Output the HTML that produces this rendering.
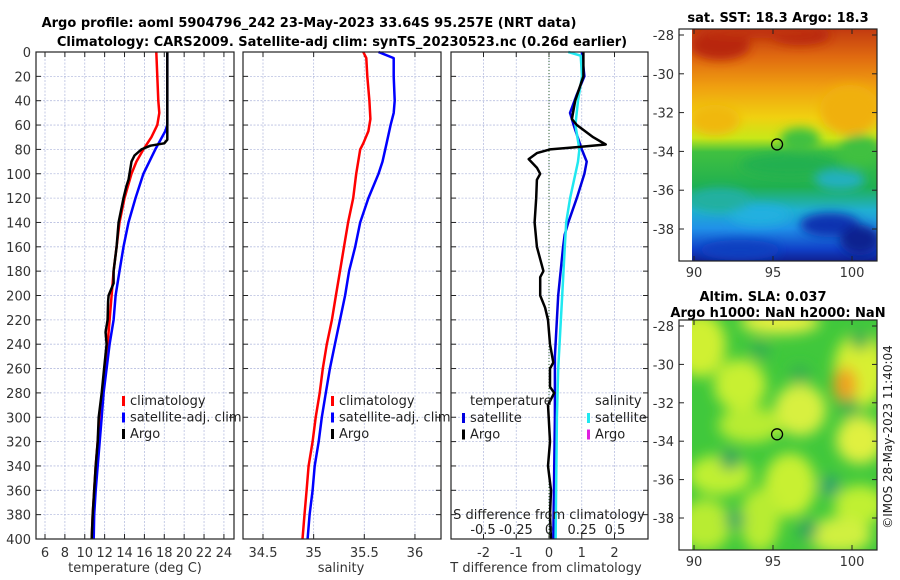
<!DOCTYPE html>
<html><head><meta charset="utf-8"><style>
body{margin:0;background:#fff;width:900px;height:580px;overflow:hidden}
svg{display:block;font-family:"DejaVu Sans","Liberation Sans",sans-serif}
</style></head><body>
<svg id="c" width="900" height="580" viewBox="0 0 900 580" xmlns="http://www.w3.org/2000/svg">
<defs>
<linearGradient id="sstg" x1="0" y1="0" x2="0" y2="1">
<stop offset="0" stop-color="#c23a10"/><stop offset="0.12" stop-color="#e06a10"/><stop offset="0.25" stop-color="#f0a010"/><stop offset="0.38" stop-color="#f0d010"/><stop offset="0.47" stop-color="#c8e818"/><stop offset="0.53" stop-color="#40c040"/><stop offset="0.68" stop-color="#20b050"/><stop offset="0.78" stop-color="#20b0d0"/><stop offset="0.86" stop-color="#2090e8"/><stop offset="0.95" stop-color="#1040c8"/><stop offset="1" stop-color="#102090"/>
</linearGradient>
<filter id="blur4"><feGaussianBlur stdDeviation="5"/></filter>
<filter id="blur7"><feGaussianBlur stdDeviation="7"/></filter>
<clipPath id="clipTop"><rect x="692" y="29" width="185" height="232"/></clipPath>
<clipPath id="clipBot"><rect x="692" y="320" width="185" height="230"/></clipPath>
</defs>
<g font-weight="bold" font-size="13" text-anchor="middle" fill="#000">
<text x="309" y="27">Argo profile: aoml 5904796_242 23-May-2023 33.64S 95.257E (NRT data)</text>
<text x="342" y="46">Climatology: CARS2009. Satellite-adj clim: synTS_20230523.nc (0.26d earlier)</text>
<text x="778" y="22">sat. SST: 18.3 Argo: 18.3</text>
<text x="763" y="301">Altim. SLA: 0.037</text>
<text x="778" y="317">Argo h1000: NaN h2000: NaN</text>
</g>
<g id="maps"></g>
<g id="panels"></g>
<text x="892" y="437" font-size="12" text-anchor="middle" transform="rotate(-90 892 437)" fill="#222">©IMOS 28-May-2023 11:40:04</text>
</svg>
<script>
// ---- data ----
const depthsT = [0,40,50,60,70,80,90,100,120,140,160,180,200,220,240,260,280,300,320,340,360,380,400];
const tempClim = [17.2,17.4,17.5,17.3,16.7,15.9,15.2,14.7,14.0,13.5,13.2,12.9,12.7,12.5,12.3,12.0,11.8,11.5,11.3,11.1,10.95,10.8,10.7];
const depthsTS = [0,60,65,80,100,120,140,160,180,200,220,240,260,280,300,320,340,360,380,400];
const tempSat = [18.3,18.3,18.1,17.1,15.9,15.1,14.4,13.9,13.5,13.1,12.9,12.5,12.2,11.9,11.7,11.5,11.3,11.1,10.95,10.9];
const depthsA = [0,72,75,77,80,85,90,100,105,110,120,140,160,180,190,200,205,220,230,240,260,280,300,320,340,360,380,400];
const tempArgo = [18.3,18.3,18.0,16.6,15.7,15.0,14.7,14.5,14.4,14.2,13.9,13.4,13.2,12.9,12.9,12.4,12.35,12.3,12.1,12.2,11.95,11.7,11.4,11.3,11.1,10.95,10.8,10.7];
const depthsSC = [0,5,20,40,55,65,75,80,100,120,140,160,180,200,220,240,260,280,300,320,340,360,380,400];
const salClim = [35.49,35.52,35.53,35.55,35.56,35.54,35.49,35.46,35.42,35.39,35.34,35.30,35.26,35.22,35.18,35.13,35.09,35.06,35.02,34.99,34.95,34.93,34.91,34.89];
const depthsSS = [0,5,20,40,50,60,75,90,100,120,140,160,180,200,220,240,260,280,300,320,340,360,380,400];
const salSat = [35.64,35.79,35.79,35.80,35.79,35.76,35.72,35.68,35.64,35.54,35.46,35.41,35.35,35.31,35.26,35.21,35.16,35.12,35.08,35.05,35.01,34.99,34.96,34.94];
const depthsDT = [0,20,35,50,55,60,80,90,100,120,140,150,160,200,250,300,400];
const dTsat = [1.0,1.08,0.85,0.64,0.7,0.75,1.0,1.15,1.08,0.85,0.59,0.48,0.43,0.28,0.18,0.18,0.13];
const depthsDS = [0,3,20,40,60,80,90,100,120,140,160,200,260,300,400];
const dSsat = [0.146,0.24,0.25,0.22,0.20,0.23,0.22,0.20,0.16,0.13,0.12,0.10,0.07,0.06,0.05];
const depthsDA = [0,20,40,55,60,70,76,78,80,83,88,95,100,105,120,140,160,180,185,200,210,220,240,255,260,275,280,290,300,320,340,360,380,400];
const dTargo = [1.05,1.05,0.8,0.7,0.85,1.35,1.73,0.9,0.03,-0.37,-0.62,-0.37,-0.27,-0.37,-0.39,-0.44,-0.37,-0.17,-0.27,-0.27,-0.12,-0.03,0.03,0.13,0.03,0.03,0.16,-0.03,-0.01,0.03,-0.03,0.06,0.03,0.06];
const depthTicks = [0,20,40,60,80,100,120,140,160,180,200,220,240,260,280,300,320,340,360,380,400];
const tempTicks = [6,8,10,12,14,16,18,20,22,24];
const salTicks = [34.5,35,35.5,36];
const salTickLabels = ["34.5","35","35.5","36"];
const dTTicks = [-2,-1,0,1,2];
const dSTicks = [-0.5,-0.25,0,0.25,0.5];
const dSTickLabels = ["-0.5","-0.25","0","0.25","0.5"];
const latTicks = [-28,-30,-32,-34,-36,-38];
const lonTicks = [90,95,100];
const argoLon = 95.257, argoLat = -33.64;

const NS='http://www.w3.org/2000/svg';
function mk(tag, attrs, parent, txt){const e=document.createElementNS(NS,tag);for(const k in attrs)e.setAttribute(k,attrs[k]);if(txt!==undefined)e.textContent=txt;parent.appendChild(e);return e;}
const P=document.getElementById('panels');
const Y0=52,Y1=539;
const yD=d=>Y0+(d/400)*(Y1-Y0);
const xT=t=>45+(t-6)*9.94;
const xS=s=>263+(s-34.5)*101.3;
const xDT=v=>549+v*32.75;
const xDS=v=>549+v*132;

function panel(name,x0,x1,vticks,xf,labels){
  const g=mk('g',{},P);
  
  
  depthTicks.forEach(d=>{const l=mk('line',{x1:x0,x2:x1,y1:yD(d),y2:yD(d),stroke:'#b8bfe0','stroke-width':0.8,'stroke-dasharray':'2,1.5'},g);
    
    });
  vticks.forEach(v=>{const l=mk('line',{x1:xf(v),x2:xf(v),y1:Y0,y2:Y1,stroke:'#b8bfe0','stroke-width':0.8,'stroke-dasharray':'2,1.5'},g);
    
    });
  depthTicks.forEach(d=>{mk('line',{x1:x0,x2:x0+5,y1:yD(d),y2:yD(d),stroke:'#222'},g);mk('line',{x1:x1-5,x2:x1,y1:yD(d),y2:yD(d),stroke:'#222'},g);});
  vticks.forEach(v=>{mk('line',{x1:xf(v),x2:xf(v),y1:Y1-5,y2:Y1,stroke:'#222'},g);mk('line',{x1:xf(v),x2:xf(v),y1:Y0,y2:Y0+5,stroke:'#222'},g);});
  vticks.forEach((v,i)=>{const t=mk('text',{x:xf(v),y:557,'font-size':13,'text-anchor':'middle',fill:'#333'},g,labels[i]);
    
    });
  return g;
}
function line(g,ds,vs,xf,color,w,name){
  const pts=ds.map((d,i)=>xf(vs[i]).toFixed(1)+','+yD(d).toFixed(1)).join(' ');
  const p=mk('polyline',{points:pts,fill:'none',stroke:color,'stroke-width':w,'stroke-linejoin':'round'},g);
  
  
}
function legend(g,x,y,items){
  items.forEach((it,i)=>{
    const yy=y+i*16.5;
    mk('rect',{x:x,y:yy-9,width:3,height:10,fill:it[0]},g);
    const t=mk('text',{x:x+8,y:yy,'font-size':13,fill:'#222'},g,it[1]);
    
    
  });
}
function box(g,x0,x1){mk('rect',{x:x0,y:Y0,width:x1-x0,height:Y1-Y0,fill:'none',stroke:'#222','stroke-width':1.2},g);}

// Panel 1 temperature
let g1=panel('temperature-panel',36,234,tempTicks,xT,tempTicks.map(String));
depthTicks.forEach(d=>{const t=mk('text',{x:31,y:yD(d)+5,'font-size':13,'text-anchor':'end',fill:'#333'},g1,String(d));
  
  });
line(g1,depthsT,tempClim,xT,'#f00',2.5,'temp-climatology-line');
line(g1,depthsTS,tempSat,xT,'#00f',2.5,'temp-satellite-line');
line(g1,depthsA,tempArgo,xT,'#000',2.5,'temp-argo-line');
legend(g1,122,405,[['#f00','climatology'],['#00f','satellite-adj. clim'],['#000','Argo']]);
box(g1,36,234);
mk('text',{x:135,y:572,'font-size':13,'text-anchor':'middle',fill:'#333',},g1,'temperature (deg C)');

// Panel 2 salinity
let g2=panel('salinity-panel',243,441,salTicks,xS,salTickLabels);
line(g2,depthsSC,salClim,xS,'#f00',2.5,'sal-climatology-line');
line(g2,depthsSS,salSat,xS,'#00f',2.5,'sal-satellite-line');
legend(g2,331,405,[['#f00','climatology'],['#00f','satellite-adj. clim'],['#000','Argo']]);
box(g2,243,441);
mk('text',{x:341,y:572,'font-size':13,'text-anchor':'middle',fill:'#333',},g2,'salinity');

// Panel 3 differences
let g3=panel('difference-panel',451,648,dTTicks,xDT,dTTicks.map(String));
mk('line',{x1:xDT(0),x2:xDT(0),y1:Y0,y2:Y1,stroke:'#336633','stroke-width':1,'stroke-dasharray':'1,2'},g3);
line(g3,depthsDT,dTsat,xDT,'#0000e0',2.5,'dT-satellite-line');
line(g3,depthsDS,dSsat,xDS,'#20e8f0',2.5,'dS-satellite-line');
line(g3,depthsDA,dTargo,xDT,'#000',2.5,'dT-argo-line');
mk('text',{x:470,y:405,'font-size':13,fill:'#222'},g3,'temperature');
mk('text',{x:595,y:405,'font-size':13,fill:'#222'},g3,'salinity');
legend(g3,462,422,[['#0000e0','satellite'],['#000','Argo']]);
legend(g3,587,422,[['#20e8f0','satellite'],['#e020e0','Argo']]);
mk('text',{x:549,y:519,'font-size':13,'text-anchor':'middle',fill:'#222',},g3,'S difference from climatology');
dSTicks.forEach((v,i)=>{const t=mk('text',{x:xDS(v),y:534,'font-size':13,'text-anchor':'middle',fill:'#222'},g3,dSTickLabels[i]);
  
  });
box(g3,451,648);
mk('text',{x:546,y:572,'font-size':13,'text-anchor':'middle',fill:'#333',},g3,'T difference from climatology');

// Maps
const M=document.getElementById('maps');
const lonX=l=>694+(l-90)*15.8;
function mapAxes(name,top,bot,lat28,lat38,fillFn,clip){
  const g=mk('g',{},M);
  
  
  const latY=l=>lat28+(l+28)/(-10)*(lat38-lat28);
  const cg=mk('g',{'clip-path':'url(#'+clip+')'},g);
  fillFn(cg);
  mk('rect',{x:679,y:top,width:198,height:bot-top,fill:'none',stroke:'#222','stroke-width':1.2},g);
  latTicks.forEach(l=>{mk('line',{x1:679,x2:684,y1:latY(l),y2:latY(l),stroke:'#222'},g);mk('line',{x1:872,x2:877,y1:latY(l),y2:latY(l),stroke:'#222'},g);
    const t=mk('text',{x:674,y:latY(l)+5,'font-size':13,'text-anchor':'end',fill:'#333'},g,String(l));
    
    });
  lonTicks.forEach(l=>{mk('line',{x1:lonX(l),x2:lonX(l),y1:bot-5,y2:bot,stroke:'#222'},g);mk('line',{x1:lonX(l),x2:lonX(l),y1:top,y2:top+5,stroke:'#222'},g);
    const t=mk('text',{x:lonX(l),y:bot+16,'font-size':13,'text-anchor':'middle',fill:'#333'},g,String(l));
    
    });
  const c=mk('circle',{cx:lonX(argoLon),cy:latY(argoLat),r:5.5,fill:'none',stroke:'#000','stroke-width':1.3},g);
  
  
}
mapAxes('sst-map',29,261,35,229,cg=>{
  mk('rect',{x:692,y:29,width:185,height:232,fill:'url(#sstg)'},cg);
  const b=mk('g',{filter:'url(#blur4)'},cg);
  [[720,45,30,15,'#b82810'],[800,35,30,10,'#b82810'],[760,32,60,6,'#c03010'],[850,110,30,25,'#f0b010'],[715,120,25,15,'#f0b810'],[860,150,20,15,'#40c040'],[790,165,50,12,'#20b050'],[840,180,25,10,'#20b0c0'],[760,215,30,10,'#20b0e0'],[830,225,30,12,'#1030b0'],[860,240,20,15,'#102090'],[740,250,40,10,'#1040c0'],[800,140,20,12,'#40c040'],[720,200,30,12,'#20b0a0']].forEach(e=>mk('ellipse',{cx:e[0],cy:e[1],rx:e[2],ry:e[3],fill:e[4]},b));
},'clipTop');
mapAxes('sla-map',320,550,326,518,cg=>{
  mk('rect',{x:692,y:320,width:185,height:230,fill:'#40c83c'},cg);
  const b=mk('g',{filter:'url(#blur7)'},cg);
  [[700,345,26,32,'#d0f030'],[780,322,40,12,'#e8f040'],[860,370,26,38,'#d8f030'],[845,385,12,18,'#f0a020'],[740,385,26,26,'#c8f030'],[800,410,26,26,'#d8f040'],[750,425,32,18,'#b8ec30'],[860,440,24,24,'#e0f040'],[720,475,32,20,'#c0f030'],[790,485,26,32,'#c8f030'],[860,505,26,20,'#c0f030'],[705,525,26,26,'#b8ec30'],[840,535,32,18,'#d0f040'],[760,520,20,32,'#b8ec30']].forEach(e=>mk('ellipse',{cx:e[0],cy:e[1],rx:e[2],ry:e[3],fill:e[4]},b));
  [[730,460,'#30a060'],[830,486,'#30a070'],[735,520,'#38a860'],[808,530,'#30a060'],[850,408,'#38b050'],[760,350,'#38b050'],[800,375,'#38b050'],[860,340,'#38b050']].forEach(e=>mk('circle',{cx:e[0],cy:e[1],r:10,fill:e[2]},b));
},'clipBot');
</script>
</body></html>
